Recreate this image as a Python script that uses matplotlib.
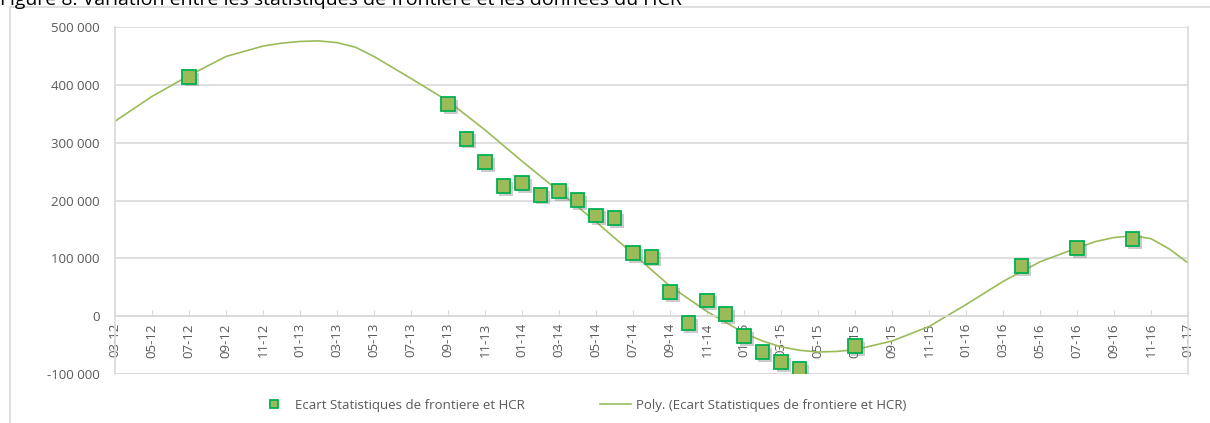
import matplotlib
matplotlib.use('Agg')
import matplotlib.pyplot as plt
import matplotlib.patheffects as pe
from matplotlib.patches import Rectangle

# mois depuis 03-2012 (0 = 03-12)
ecart_mois = [4, 18, 19, 20, 21, 22, 23, 24, 25, 26, 27, 28, 29, 30, 31, 32,
              33, 34, 35, 36, 37, 40, 49, 52, 55]
ecart_vals = [414000, 367000, 307000, 266000, 225000, 230000, 210000, 216000,
              201000, 174000, 169000, 109000, 103000, 42000, -12000, 27000,
              4000, -35000, -62000, -79000, -91000, -52000, 86000, 118000, 133000]

# courbe de tendance polynomiale
poly_mois = [0, 2, 4, 6, 8, 9, 10, 11, 12, 13, 14, 16, 18, 20, 22, 24, 26, 28,
             30, 32, 34, 35, 36, 37, 38, 39, 40, 42, 44, 46, 48, 50, 52, 53,
             54, 55, 56, 57, 58]
poly_vals = [337000, 380000, 416000, 449000, 467000, 472000, 475000, 476000,
             473000, 465000, 449000, 411000, 372000, 322000, 268000, 216000,
             163000, 108000, 52000, 8000, -29000, -43000, -53000, -59000,
             -62000, -61000, -58000, -43000, -18000, 20000, 60000, 94000,
             118000, 129000, 136000, 139000, 134000, 116000, 92000]

tick_labels = ['03-12', '05-12', '07-12', '09-12', '11-12', '01-13', '03-13',
               '05-13', '07-13', '09-13', '11-13', '01-14', '03-14', '05-14',
               '07-14', '09-14', '11-14', '01-15', '03-15', '05-15', '07-15',
               '09-15', '11-15', '01-16', '03-16', '05-16', '07-16', '09-16',
               '11-16', '01-17']

serie_label = 'Ecart Statistiques de frontiere et HCR'
poly_label = 'Poly. (Ecart Statistiques de frontiere et HCR)'

plt.rcParams['font.family'] = ['Open Sans', 'DejaVu Sans']

fig = plt.figure(figsize=(12.1, 4.23), dpi=100)

# cadre de la zone de graphique
fig.patches.append(Rectangle((10 / 1210, -0.1), 1.2, 1 - 7 / 423 + 0.1,
                             transform=fig.transFigure, fill=False,
                             edgecolor='#d9d9d9', linewidth=1.2))
# titre coupé en haut, comme dans l'original
fig.text(0.0, 1 - 5 / 423, 'Figure 8: Variation entre les statistiques de frontiere et les donnees du HCR',
         fontsize=14, color='black', va='baseline', ha='left')

ax = fig.add_axes([115 / 1210, 1 - 374 / 423, (1188 - 115) / 1210, (374 - 27) / 423])

grid_c = '#d9d9d9'
ax.set_ylim(-100000, 500000)
ax.set_xlim(0, 58)
ax.set_yticks(range(-100000, 500001, 100000))
ax.set_yticklabels(['-100 000', '0', '100 000', '200 000', '300 000', '400 000', '500 000'])
ax.yaxis.grid(True, color=grid_c, linewidth=1.2)
ax.set_axisbelow(True)
ax.tick_params(axis='y', length=0, pad=11, labelsize=9.5, labelcolor='#595959')

ax.set_xticks(range(0, 59, 2))
ax.set_xticklabels(tick_labels)
ax.spines['bottom'].set_position(('data', 0))
ax.tick_params(axis='x', direction='in', length=4, color=grid_c, labelsize=9.5,
               labelcolor='#595959', pad=5, labelrotation=90)
for s in ['bottom', 'left', 'right']:
    ax.spines[s].set_color(grid_c)
    ax.spines[s].set_linewidth(1.2)
ax.spines['top'].set_visible(False)
ax.axhline(-100000, color=grid_c, linewidth=1.2, zorder=0)

ax.plot(poly_mois, poly_vals, color='#9bbb59', linewidth=1.2, zorder=2,
        label=poly_label)
ax.plot(ecart_mois, ecart_vals, linestyle='none', marker='s', markersize=10,
        markerfacecolor='#9bbb59', markeredgecolor='#00b050', markeredgewidth=1.3,
        zorder=3, label=serie_label,
        path_effects=[pe.SimplePatchShadow(offset=(2, -2), shadow_rgbFace='#7f7f7f', alpha=0.4),
                      pe.Normal()])

h, l = ax.get_legend_handles_labels()
leg = fig.legend(h[::-1], l[::-1], loc='center', bbox_to_anchor=(0.4815, 1 - 405 / 423),
                 ncol=2, frameon=False, fontsize=9.5, columnspacing=5.7,
                 handlelength=2.35, handletextpad=0.4, labelcolor='#595959')
leg.legend_handles[0].set_markersize(6)
leg.legend_handles[0].set_path_effects([])

fig.savefig('out.png', dpi=100, facecolor='white')
